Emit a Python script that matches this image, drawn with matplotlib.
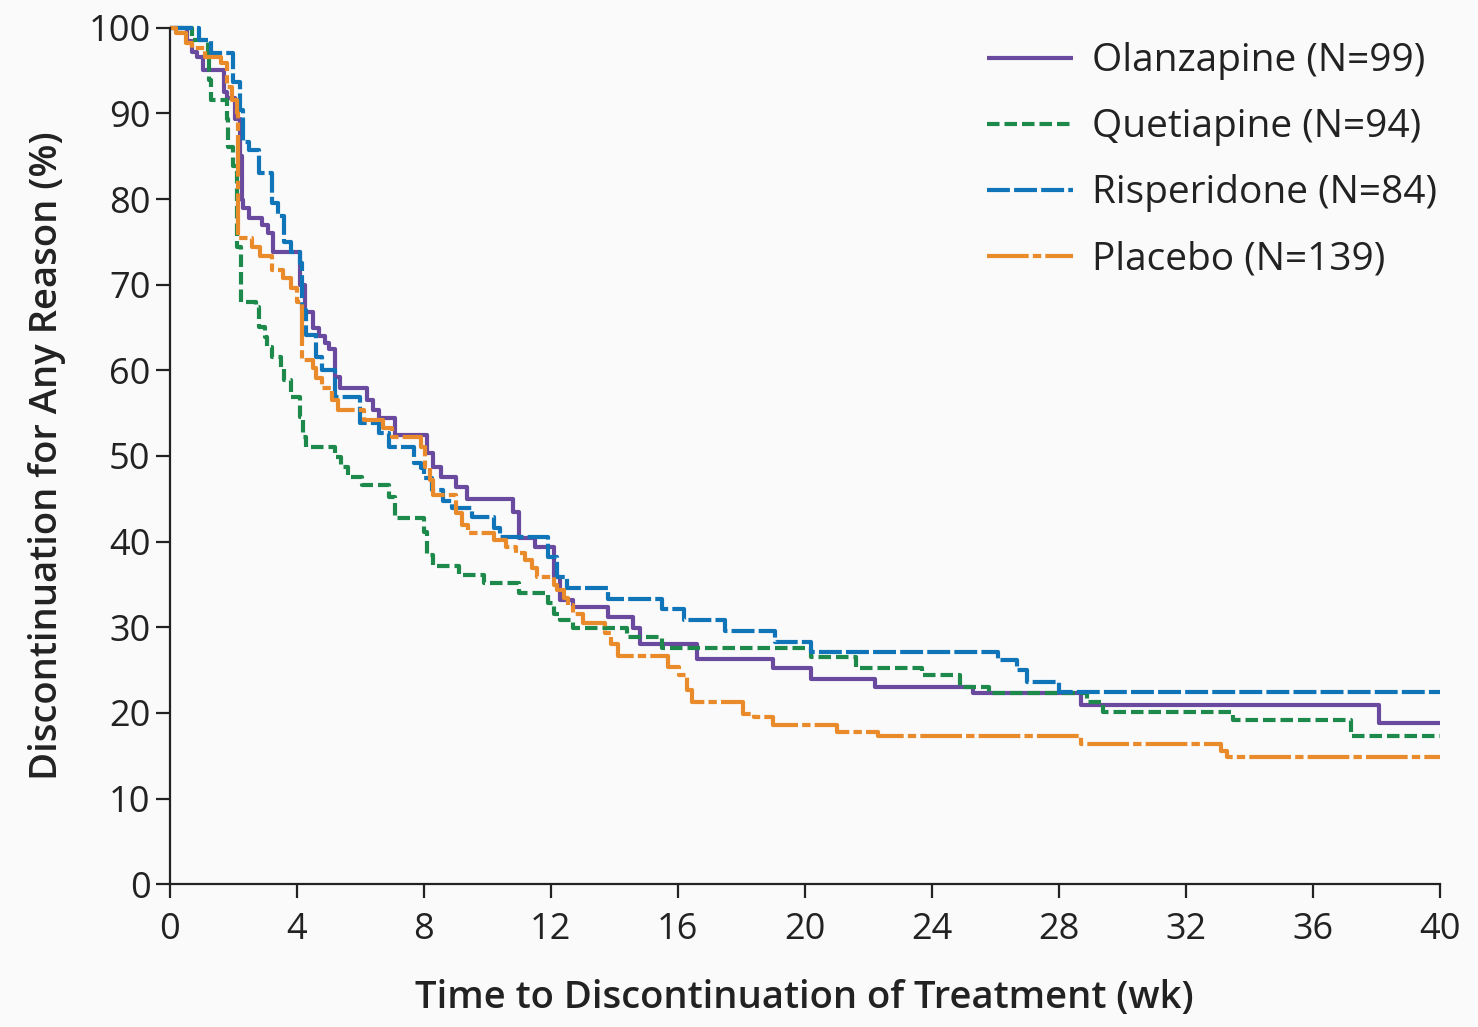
import matplotlib
matplotlib.use("Agg")
import matplotlib.pyplot as plt

# ---- data (weeks, % remaining on treatment) ----
olz_t = [0, 0.55, 0.7, 0.85, 1.05, 1.7, 1.8, 2.05, 2.2, 2.27, 2.3, 2.5, 2.9, 3.1, 3.25, 4.1, 4.25,
         4.5, 4.7, 4.9, 5.0, 5.2, 5.35, 6.2, 6.4, 6.6, 7.1, 8.1, 8.3, 8.55, 9.0, 9.35, 10.8,
         11.0, 11.5, 12.1, 12.3, 12.7, 13.8, 14.6, 14.8, 16.6, 19.0, 20.2, 22.2, 25.3, 28.7, 38.1, 40]
olz_v = [100, 98.4, 97.2, 96.6, 95.1, 92.5, 91.8, 89.3, 85.0, 79.9, 79.0, 77.8, 77.0, 76.0, 73.8, 70.0, 66.8,
         65.0, 64.0, 63.2, 62.5, 59.2, 57.9, 56.5, 55.4, 54.4, 52.5, 50.3, 48.7, 47.5, 46.4, 45.0, 43.5,
         40.4, 39.4, 35.9, 33.2, 32.4, 31.2, 29.9, 28.1, 26.3, 25.2, 24.0, 23.0, 22.3, 20.9, 18.8, 18.8]

que_t = [0, 0.7, 1.2, 1.23, 1.3, 1.8, 1.83, 2.0, 2.1, 2.12, 2.25, 2.7, 2.8, 3.0, 3.05, 3.2, 3.5,
         3.6, 3.8, 4.1, 4.2, 4.3, 5.2, 5.4, 5.6, 6.05, 6.9, 7.1, 8.0, 8.1, 8.3, 9.1, 9.9, 11.0,
         11.9, 12.1, 12.3, 12.7, 14.4, 15.5, 20.2, 21.6, 23.7, 24.9, 25.8, 28.9, 29.4, 33.5, 37.2, 40]
que_v = [100, 98.6, 96.3, 93.9, 91.6, 89.3, 86.1, 83.8, 78.7, 74.4, 68.0, 67.4, 65.1, 63.9, 62.7, 61.6, 60.4,
         58.9, 56.9, 54.6, 52.2, 51.0, 49.9, 48.7, 47.5, 46.6, 45.2, 42.8, 41.1, 38.4, 37.1, 36.1, 35.2, 34.0,
         32.8, 31.6, 30.8, 29.9, 28.9, 27.6, 26.5, 25.3, 24.4, 23.0, 22.3, 21.3, 20.1, 19.2, 17.3, 17.3]

ris_t = [0, 0.9, 1.3, 2.0, 2.2, 2.3, 2.5, 2.8, 3.2, 3.4, 3.6, 3.8, 4.1, 4.15, 4.3, 4.6, 4.8, 5.2,
         6.0, 6.6, 6.9, 7.7, 7.9, 8.0, 8.25, 8.6, 8.9, 9.5, 10.2, 10.4, 11.9, 12.2, 12.5, 13.8,
         15.5, 16.2, 17.5, 19.05, 20.2, 26.1, 26.7, 27.0, 28.0, 40]
ris_v = [100, 98.6, 97.1, 93.7, 90.4, 86.7, 85.7, 83.0, 79.5, 78.0, 75.0, 73.8, 72.5, 67.1, 64.1, 61.6, 60.0, 56.9,
         53.8, 52.7, 51.1, 49.2, 48.6, 47.4, 46.0, 44.8, 43.9, 42.9, 41.6, 40.5, 38.2, 35.9, 34.6, 33.3,
         32.1, 30.8, 29.6, 28.3, 27.1, 26.2, 25.0, 23.6, 22.4, 22.4]

pla_t = [0, 0.2, 0.5, 0.7, 1.1, 1.6, 1.8, 1.95, 2.1, 2.15, 2.6, 2.85, 3.2, 3.55, 3.8, 4.0, 4.15,
         4.5, 4.6, 4.8, 5.1, 5.3, 6.1, 6.7, 7.0, 7.9, 8.05, 8.2, 8.3, 9.0, 9.2, 9.4, 10.2, 10.6,
         10.9, 11.2, 11.4, 11.55, 12.1, 12.2, 12.4, 12.55, 12.7, 13.0, 13.7, 13.9, 14.1, 15.7, 16.05,
         16.3, 16.45, 18.05, 18.4, 19.0, 21.0, 22.3, 28.7, 33.1, 33.3, 40]
pla_v = [100, 99.4, 98.2, 97.6, 96.6, 95.9, 93.1, 91.6, 90.1, 75.5, 74.4, 73.3, 71.7, 70.8, 69.6, 68.0, 61.2,
         60.3, 59.1, 57.9, 56.5, 55.4, 54.2, 53.3, 52.2, 51.1, 48.7, 47.2, 45.4, 43.3, 41.9, 41.0, 40.2, 39.4,
         38.7, 37.9, 36.9, 35.9, 34.9, 34.3, 33.4, 32.6, 31.6, 30.5, 29.3, 28.1, 26.7, 25.4, 24.4,
         22.7, 21.3, 19.9, 19.5, 18.6, 17.8, 17.3, 16.4, 15.6, 14.8, 14.8]

labels = ["Olanzapine (N=99)", "Quetiapine (N=94)", "Risperidone (N=84)", "Placebo (N=139)"]
x_ticks = list(range(0, 41, 4))
y_ticks = list(range(0, 101, 10))

# ---- styling ----
plt.rcParams['font.family'] = ['Open Sans', 'DejaVu Sans']
bg = '#fafafa'
fig = plt.figure(figsize=(14.78, 10.27), dpi=100, facecolor=bg)
ax = fig.add_axes([0.115, 0.139, 0.859, 0.834], facecolor=bg)

lw = 3.0
series = [
    (olz_t, olz_v, '#6a4a9e', (0, ())),
    (que_t, que_v, '#1d8a4b', (0, (3.0, 1.2))),
    (ris_t, ris_v, '#0f74b8', (0, (5.5, 1.0))),
    (pla_t, pla_v, '#e98b2a', (0, (10.0, 1.0, 2.0, 1.0))),
]
for (t, v, c, ls), lab in zip(series, labels):
    ax.step(t, v, where='post', color=c, lw=lw, linestyle=ls, label=lab,
            clip_on=False, solid_capstyle='butt', dash_capstyle='butt')

ax.set_xlim(0, 40)
ax.set_ylim(0, 100)
ax.set_xticks(x_ticks)
ax.set_yticks(y_ticks)
ax.tick_params(axis='both', labelsize=26, length=10, width=1.6, color='#222222',
               labelcolor='#222222')
ax.tick_params(axis='x', pad=10)
ax.tick_params(axis='y', pad=4)
for s in ['top', 'right']:
    ax.spines[s].set_visible(False)
for s in ['left', 'bottom']:
    ax.spines[s].set_linewidth(1.6)
    ax.spines[s].set_color('#222222')

ax.set_xlabel("Time to Discontinuation of Treatment (wk)", fontsize=27.5,
              fontweight='semibold', color='#222222', labelpad=22)
ax.set_ylabel("Discontinuation for Any Reason (%)", fontsize=27.5,
              fontweight='semibold', color='#222222', labelpad=16)

leg = ax.legend(loc='upper right', bbox_to_anchor=(1.026, 1.024), frameon=False,
                fontsize=28, handlelength=2.2, handletextpad=0.5, labelspacing=0.72)
for txt in leg.get_texts():
    txt.set_color('#222222')

fig.savefig("out.png", dpi=100, facecolor=bg)
